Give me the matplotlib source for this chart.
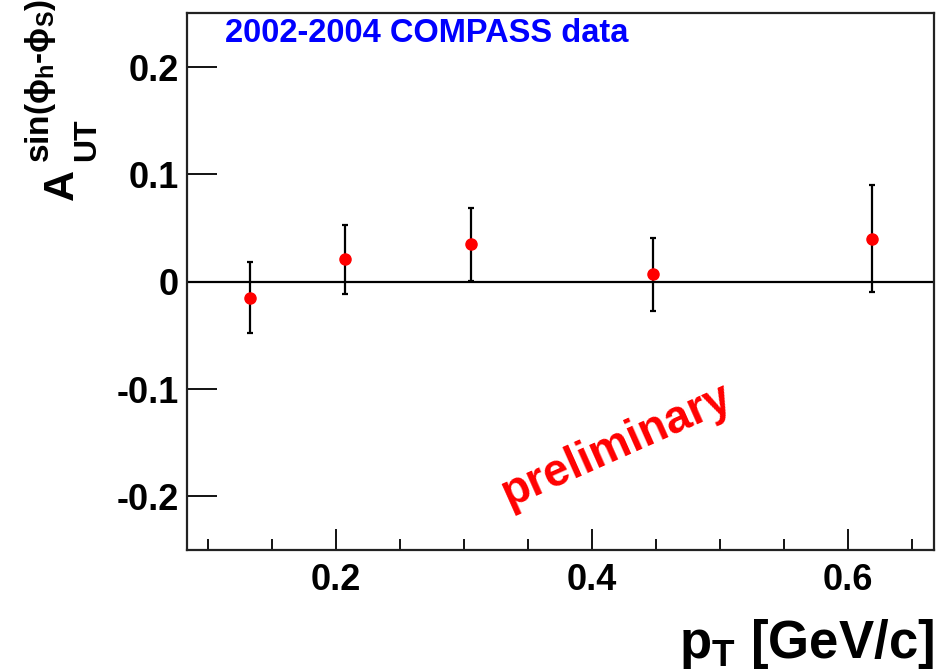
import matplotlib
matplotlib.use("Agg")
import matplotlib.pyplot as plt
from matplotlib.ticker import MultipleLocator

plt.rcParams['font.family'] = ['Liberation Sans', 'DejaVu Sans']
plt.rcParams['font.weight'] = 'bold'
plt.rcParams['mathtext.fontset'] = 'custom'
plt.rcParams['mathtext.rm'] = 'Liberation Sans:bold'
plt.rcParams['mathtext.bf'] = 'Liberation Sans:bold'
plt.rcParams['mathtext.it'] = 'Liberation Sans:bold'
plt.rcParams['mathtext.sf'] = 'Liberation Sans:bold'
plt.rcParams['mathtext.fallback'] = 'stixsans'

# data
pt = [0.133, 0.207, 0.306, 0.448, 0.619]
asym = [-0.015, 0.021, 0.035, 0.007, 0.040]
err = [0.033, 0.032, 0.034, 0.034, 0.050]

xticks = [0.2, 0.4, 0.6]
xtick_labels = ['0.2', '0.4', '0.6']
yticks = [-0.2, -0.1, 0.0, 0.1, 0.2]
ytick_labels = ['-0.2', '-0.1', '0', '0.1', '0.2']

W, H = 938, 670
fig = plt.figure(figsize=(W / 100, H / 100), dpi=100)
ax = fig.add_axes([0.1994, 0.1791, 0.7963, 0.8008])

ax.set_xlim(0.084, 0.667)
ax.set_ylim(-0.25, 0.25)

ax.axhline(0.0, color='black', lw=1.6, zorder=1)
ax.errorbar(pt, asym, yerr=err, fmt='o', color='red', ms=8, mec='red',
            ecolor='black', elinewidth=1.6, capsize=2.2, capthick=1.6, zorder=3)

ax.set_xticks(xticks)
ax.set_xticklabels(xtick_labels)
ax.set_yticks(yticks)
ax.set_yticklabels(ytick_labels)
ax.xaxis.set_minor_locator(MultipleLocator(0.05))

ax.tick_params(axis='x', which='major', direction='in', length=15, width=1.3,
               labelsize=26, pad=9, top=False)
ax.tick_params(axis='x', which='minor', direction='in', length=8, width=1.3, top=False)
ax.tick_params(axis='y', which='major', direction='in', length=21.5, width=1.3,
               labelsize=26, pad=6, right=False)
for lab in ax.get_xticklabels() + ax.get_yticklabels():
    lab.set_fontweight('bold')

for s in ax.spines.values():
    s.set_linewidth(1.6)
    s.set_color('#222222')

fig.text(225 / W, 1 - 34 / H, '2002-2004 COMPASS data', color='#0000ff',
         fontsize=23.5, fontweight='bold', ha='left', va='center')

fig.text(617 / W, 1 - 446 / H, 'preliminary',
         color='#ff0000', fontsize=33, fontweight='bold', rotation=24,
         ha='center', va='center', rotation_mode='anchor')

# y-axis title: A_UT^{sin(phi_h - phi_S)} built from pieces
fig.text(62 / W, 1 - 185 / H, 'A', fontsize=31, fontweight='bold',
         rotation=90, ha='center', va='center')
fig.text(87 / W, 1 - 140 / H, 'UT', fontsize=23, fontweight='bold',
         rotation=90, ha='center', va='center')
fig.text(40 / W, 1 - 81 / H,
         r'sin($\mathbf{\phi}_{\mathbf{h}}$-$\mathbf{\phi}_{\mathbf{S}}$)',
         fontsize=24, fontweight='bold', rotation=90, ha='center', va='center')

fig.text(0.996, 12 / H, r'$\mathbf{p_{T}}$ [GeV/c]', fontsize=38,
         fontweight='bold', ha='right', va='baseline')

fig.savefig('out.png', dpi=100)
